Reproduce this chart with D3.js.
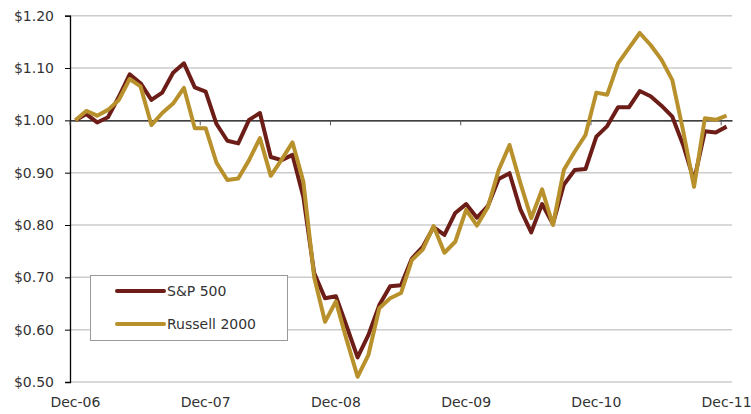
<!DOCTYPE html>
<html>
<head>
<meta charset="utf-8">
<script src="https://cdn.jsdelivr.net/npm/d3@7"></script>
<style>
body { margin: 0; background: #fff; }
text { font-family: "DejaVu Sans", sans-serif; fill: #333; font-size: 14px; }
</style>
</head>
<body>
<div id="chart-wrapper"></div>
<script>
// monthly categories, Dec-06 .. Dec-11
var months = d3.timeMonth.range(new Date(2006, 11, 1), new Date(2012, 0, 1))
    .map(d3.timeFormat('%b-%y'));

var sp500 = [1.000, 1.012, 0.996, 1.006, 1.045, 1.088, 1.071, 1.039, 1.053, 1.091, 1.109, 1.063,
    1.055, 0.993, 0.961, 0.956, 1.001, 1.014, 0.930, 0.924, 0.934, 0.854, 0.708, 0.660,
    0.664, 0.606, 0.547, 0.590, 0.647, 0.683, 0.685, 0.736, 0.758, 0.796, 0.781, 0.823,
    0.840, 0.814, 0.836, 0.888, 0.899, 0.830, 0.786, 0.840, 0.802, 0.877, 0.905, 0.907,
    0.969, 0.989, 1.025, 1.025, 1.056, 1.046, 1.028, 1.007, 0.953, 0.885, 0.979, 0.977,
    0.988];

var russell2000 = [1.000, 1.018, 1.009, 1.020, 1.039, 1.079, 1.065, 0.991, 1.014, 1.032, 1.062, 0.985,
    0.985, 0.919, 0.886, 0.889, 0.924, 0.966, 0.894, 0.925, 0.958, 0.883, 0.700, 0.615,
    0.654, 0.580, 0.510, 0.552, 0.641, 0.660, 0.670, 0.733, 0.753, 0.798, 0.747, 0.768,
    0.829, 0.799, 0.834, 0.905, 0.953, 0.880, 0.813, 0.868, 0.800, 0.905, 0.940, 0.972,
    1.053, 1.049, 1.109, 1.138, 1.167, 1.144, 1.116, 1.077, 0.980, 0.873, 1.004, 1.001,
    1.009];

var series_names = ['S&P 500', 'Russell 2000'];
var y_ticks = [0.5, 0.6, 0.7, 0.8, 0.9, 1.0, 1.1, 1.2];
var x_labels = ['Dec-06', 'Dec-07', 'Dec-08', 'Dec-09', 'Dec-10', 'Dec-11'];

var colors = ['#6d1d17', '#b8912d'];

var total_width = 751, total_height = 414;
var plot = {left: 70, right: 732, top: 15.7, bottom: 382};

var svg = d3.select('#chart-wrapper').append('svg')
    .attr('width', total_width)
    .attr('height', total_height);

var scale_x = d3.scaleBand()
    .domain(months)
    .range([plot.left, plot.right])
    .padding(0);

var scale_y = d3.scaleLinear()
    .domain([0.5, 1.2])
    .range([plot.bottom, plot.top]);

var mid = function(m) { return scale_x(m) + scale_x.bandwidth() / 2; };

// gridlines (1.00 is drawn as the axis)
svg.append('g')
    .attr('class', 'gridlines')
  .selectAll('line')
    .data(y_ticks.filter(function(d) { return d !== 1.0; }))
    .enter()
  .append('line')
    .attr('x1', plot.left)
    .attr('x2', plot.right)
    .attr('y1', function(d) { return scale_y(d); })
    .attr('y2', function(d) { return scale_y(d); })
    .attr('stroke', '#cccccc')
    .attr('stroke-width', 1.5);

// y axis
var axis_y = d3.axisLeft(scale_y)
    .tickValues(y_ticks)
    .tickSize(5)
    .tickPadding(11)
    .tickFormat(function(d) { return '$' + d3.format('.2f')(d); });
var gy = svg.append('g')
    .attr('transform', 'translate(' + plot.left + ',0)')
    .call(axis_y);
gy.select('.domain').attr('stroke', '#000').attr('stroke-width', 1.3);
gy.selectAll('.tick line').attr('stroke', '#000');
gy.selectAll('text')
    .style('font-family', '"DejaVu Sans", sans-serif')
    .style('font-size', '14px')
    .attr('fill', '#333');

// horizontal axis sits at $1.00, ticks between categories
var axis_x = d3.axisBottom(scale_x)
    .tickValues(x_labels)
    .tickSize(0)
    .tickFormat('');
var gx = svg.append('g')
    .attr('transform', 'translate(0,' + scale_y(1.0) + ')')
    .call(axis_x);
gx.select('.domain').attr('stroke', '#000').attr('stroke-width', 1.3);
gx.selectAll('.tick')
    .attr('transform', function(d) { return 'translate(' + scale_x(d) + ',0)'; })
  .append('line')
    .attr('y2', 5)
    .attr('stroke', '#555');

// category labels at the bottom
svg.append('g')
    .attr('class', 'x-labels')
  .selectAll('text')
    .data(x_labels)
    .enter()
  .append('text')
    .attr('x', function(d) { return mid(d); })
    .attr('y', 407)
    .attr('text-anchor', 'middle')
    .text(function(d) { return d; });

// lines
var line = d3.line()
    .x(function(d, i) { return mid(months[i]); })
    .y(function(d) { return scale_y(d); });

[sp500, russell2000].forEach(function(values, k) {
    svg.append('path')
        .datum(values)
        .attr('d', line)
        .attr('fill', 'none')
        .attr('stroke', colors[k])
        .attr('stroke-width', 4)
        .attr('stroke-linejoin', 'round');
});

// legend
var legend = svg.append('g')
    .attr('class', 'legend')
    .attr('transform', 'translate(90,275)');
legend.append('rect')
    .attr('x', 0.5)
    .attr('y', 0.5)
    .attr('width', 197)
    .attr('height', 65)
    .attr('fill', '#fff')
    .attr('stroke', '#999');
var items = legend.selectAll('g.item')
    .data(series_names)
    .enter()
  .append('g')
    .attr('class', 'item')
    .attr('transform', function(d, i) { return 'translate(0,' + (16 + i * 33) + ')'; });
items.append('line')
    .attr('x1', 27)
    .attr('x2', 74)
    .attr('stroke', function(d, i) { return colors[i]; })
    .attr('stroke-width', 4)
    .attr('stroke-linecap', 'round');
items.append('text')
    .attr('x', 77)
    .attr('dy', '0.36em')
    .text(function(d) { return d; });
</script>
</body>
</html>
